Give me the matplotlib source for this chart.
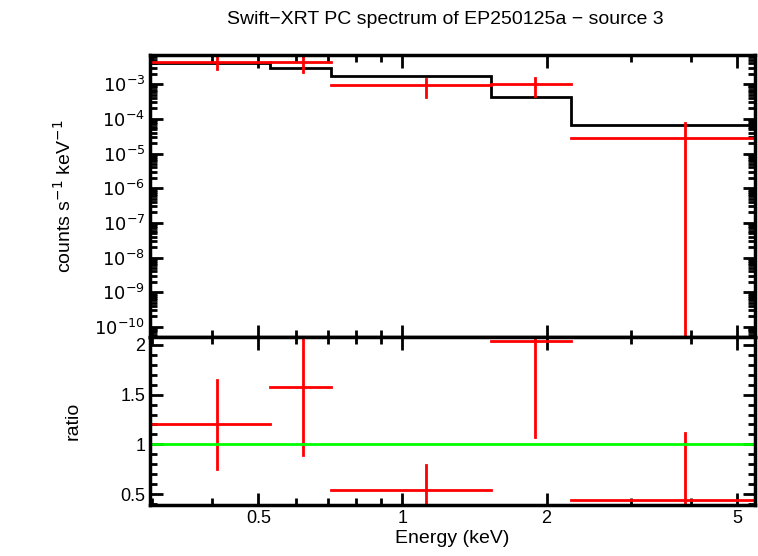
import matplotlib
matplotlib.use("Agg")
import matplotlib.pyplot as plt
import numpy as np
from matplotlib.ticker import FixedLocator, NullFormatter, FixedFormatter, LogLocator

plt.rcParams['font.family'] = 'Liberation Sans'

e_lo = [0.30, 0.53, 0.71, 1.53, 2.25]
e_hi = [0.53, 0.71, 1.53, 2.25, 5.45]
e_c = [0.41, 0.62, 1.12, 1.89, 3.89]
counts = [4.3e-3, 4.3e-3, 9.5e-4, 9.8e-4, 2.8e-5]
cnt_lo = [2.7e-3, 2.3e-3, 4.4e-4, 4.7e-4, 1e-11]
cnt_hi = [6.5e-3, 9e-3, 1.4e-3, 1.5e-3, 7.5e-5]
model = [4.0e-3, 2.9e-3, 1.7e-3, 4.4e-4, 6.6e-5]
ratio = [1.20, 1.58, 0.54, 2.04, 0.44]
ratio_lo = [0.75, 0.89, 0.38, 1.07, 0.30]
ratio_hi = [1.65, 2.20, 0.79, 2.20, 1.11]

W, H = 758, 556
fig = plt.figure(figsize=(W/100, H/100), dpi=100)
L, R = 150/W, 755/W
ax1 = fig.add_axes([L, 1-337/H, R-L, (337-55)/H])
ax2 = fig.add_axes([L, 1-505/H, R-L, (505-337)/H], sharex=ax1)

red = '#ff0000'
for i in range(len(e_c)):
    ax1.plot([e_lo[i], e_hi[i]], [counts[i]]*2, color=red, lw=2)
    ax1.plot([e_c[i]]*2, [cnt_lo[i], cnt_hi[i]], color=red, lw=2)
    ax2.plot([e_lo[i], e_hi[i]], [ratio[i]]*2, color=red, lw=2)
    ax2.plot([e_c[i]]*2, [ratio_lo[i], ratio_hi[i]], color=red, lw=2)
ax1.stairs(model, e_lo + [e_hi[-1]], color='black', lw=2, baseline=None)
ax2.axhline(1.0, color='#00ff00', lw=2)

ax1.set_xscale('log')
ax1.set_yscale('log')
ax1.set_xlim(0.297, 5.45)
ax1.set_ylim(10**-10.29, 10**-2.16)
ax2.set_ylim(0.39, 2.08)

yt = [1e-3, 1e-4, 1e-5, 1e-6, 1e-7, 1e-8, 1e-9, 1e-10]
ax1.yaxis.set_major_locator(FixedLocator(yt))
ax1.yaxis.set_major_formatter(FixedFormatter([r'$10^{-%d}$' % k for k in range(3, 11)]))
ax1.yaxis.set_minor_locator(LogLocator(base=10, subs=np.arange(2, 10), numticks=20))
ax1.yaxis.set_minor_formatter(NullFormatter())

xt = [0.5, 1, 2, 5]
ax2.xaxis.set_major_locator(FixedLocator(xt))
ax2.xaxis.set_major_formatter(FixedFormatter(['0.5', '1', '2', '5']))
ax2.xaxis.set_minor_locator(FixedLocator([0.3, 0.4, 0.6, 0.7, 0.8, 0.9, 3, 4]))
ax2.xaxis.set_minor_formatter(NullFormatter())
ax2.yaxis.set_major_locator(FixedLocator([0.5, 1, 1.5, 2]))
ax2.yaxis.set_major_formatter(FixedFormatter(['0.5', '1', '1.5', '2']))
ax2.yaxis.set_minor_locator(FixedLocator(np.arange(0.4, 2.1, 0.1)))
plt.setp(ax1.get_xticklabels(), visible=False)

for ax in (ax1, ax2):
    ax.tick_params(which='both', direction='in', top=True, right=True, width=2, labelsize=13)
    ax.tick_params(which='major', length=9)
    ax.tick_params(which='minor', length=5)
    for s in ax.spines.values():
        s.set_linewidth(2.5)

ax2.set_xlabel('Energy (keV)', fontsize=14, labelpad=2)
ax1.set_ylabel(r'counts s$^{-1}$ keV$^{-1}$', fontsize=14, labelpad=14)
ax2.set_ylabel('ratio', fontsize=14, labelpad=28)
fig.text(0.587, 1-20/H, 'Swift\u2212XRT PC spectrum of EP250125a \u2212 source 3', ha='center', va='center', fontsize=14)
fig.savefig('out.png', dpi=100)
